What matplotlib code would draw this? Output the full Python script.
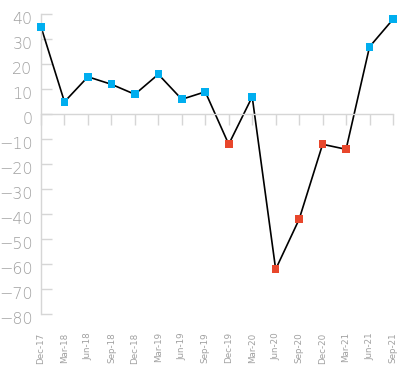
import matplotlib
matplotlib.use('Agg')
import matplotlib.pyplot as plt
from matplotlib.transforms import ScaledTranslation

# Data
quarters = ['Dec-17', 'Mar-18', 'Jun-18', 'Sep-18', 'Dec-18', 'Mar-19', 'Jun-19', 'Sep-19',
            'Dec-19', 'Mar-20', 'Jun-20', 'Sep-20', 'Dec-20', 'Mar-21', 'Jun-21', 'Sep-21']
values = [35, 5, 15, 12, 8, 16, 6, 9, -12, 7, -62, -42, -12, -14, 27, 38]
yticks = list(range(-80, 41, 10))

blue = '#00AEEF'
red = '#E8462B'
grid_grey = '#d6d6d6'
text_grey = '#a0a0a0'

fig = plt.figure(figsize=(4.11, 3.71), dpi=100)
ax = fig.add_axes([41 / 411, 1 - 314.3 / 371, (393 - 41) / 411, 300 / 371])

x = list(range(len(quarters)))
ax.plot(x, values, color='black', linewidth=1.2, zorder=2, clip_on=False)
colors = [blue if v >= 0 else red for v in values]
ax.scatter(x, values, marker='s', s=30, c=colors, zorder=3, clip_on=False, linewidths=0)

ax.set_xlim(0, len(quarters) - 1)
ax.set_ylim(-80, 40)

# spines
for s in ['top', 'right']:
    ax.spines[s].set_visible(False)
ax.spines['left'].set_color(grid_grey)
ax.spines['left'].set_linewidth(1)
ax.spines['bottom'].set_position(('data', 0))
ax.spines['bottom'].set_color(grid_grey)
ax.spines['bottom'].set_linewidth(1)

# y axis ticks point inwards
ax.set_yticks(yticks)
ax.tick_params(axis='y', direction='in', length=8, width=1, color=grid_grey,
               labelcolor=text_grey, labelsize=11.5, pad=6)
for lab in ax.get_yticklabels():
    lab.set_fontweight('light')
    lab.set_transform(lab.get_transform() + ScaledTranslation(0, -4 / 100, fig.dpi_scale_trans))

# x ticks hang off the zero line, labels sit at the bottom
ax.set_xticks(x)
ax.tick_params(axis='x', direction='out', length=8, width=1, color=grid_grey, labelbottom=False)

sec = ax.secondary_xaxis(location=-0.06)
sec.set_xticks(x)
sec.set_xticklabels(quarters, rotation=90, fontsize=6.3, color=text_grey)
sec.tick_params(length=0, pad=0)
sec.spines['bottom'].set_visible(False)

fig.savefig('out.png', dpi=100)
